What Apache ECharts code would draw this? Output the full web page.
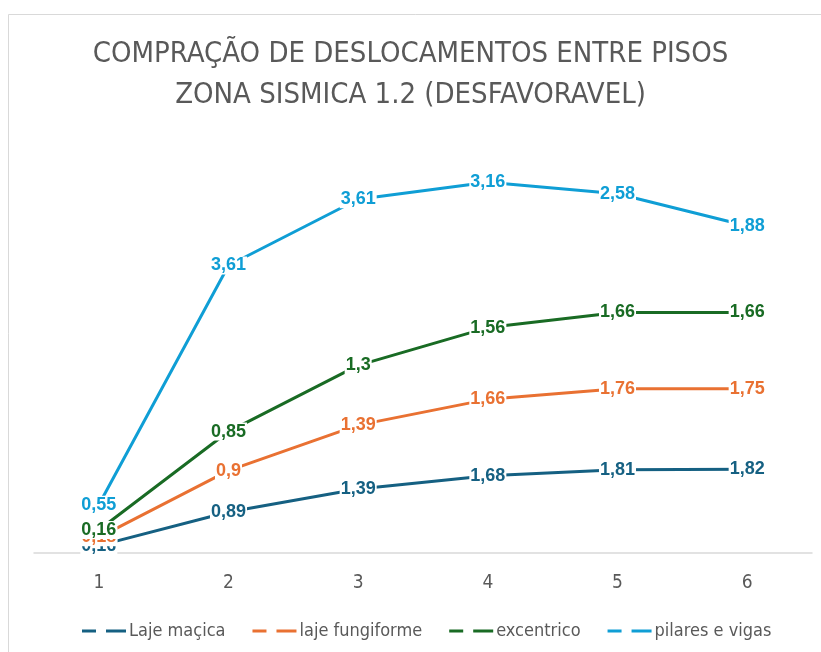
<!DOCTYPE html>
<html>
<head>
<meta charset="utf-8">
<script src="https://cdn.jsdelivr.net/npm/echarts@6/dist/echarts.min.js"></script>
<style>
  html, body { margin: 0; padding: 0; background: #ffffff; }
  #chart { width: 821px; height: 652px; }
</style>
</head>
<body>
<div id="chart"></div>
<script>
// Floors (categories on the x axis)
const pisos = ['1', '2', '3', '4', '5', '6'];

// Inter-storey displacement per structural system (stacked lines)
const lajeMacica = [0.16, 0.89, 1.39, 1.68, 1.81, 1.82];
const lajeFungiforme = [0.18, 0.9, 1.39, 1.66, 1.76, 1.75];
const excentrico = [0.16, 0.85, 1.3, 1.56, 1.66, 1.66];
const pilaresVigas = [0.55, 3.61, 3.61, 3.16, 2.58, 1.88];

const seriesNames = ['Laje maçica', 'laje fungiforme', 'excentrico', 'pilares e vigas'];
const seriesData = [lajeMacica, lajeFungiforme, excentrico, pilaresVigas];
const colors = ['#156082', '#E97132', '#196B24', '#0F9ED5'];

const textFont = '"Liberation Sans Narrow", "DejaVu Sans Condensed", "Liberation Sans", sans-serif';

const chart = echarts.init(document.getElementById('chart'));

chart.setOption({
  animation: false,
  backgroundColor: '#ffffff',
  color: colors,
  title: {
    text: 'COMPRAÇÃO DE DESLOCAMENTOS ENTRE PISOS\nZONA SISMICA 1.2 (DESFAVORAVEL)',
    left: 'center',
    top: 29,
    textStyle: {
      fontFamily: textFont,
      fontSize: 29,
      fontWeight: 'normal',
      color: '#595959',
      lineHeight: 41
    }
  },
  graphic: [{
    type: 'rect',
    shape: { x: 8.5, y: 14.5, width: 840, height: 700 },
    style: { fill: 'none', stroke: '#d9d9d9', lineWidth: 1 },
    silent: true
  }],
  legend: {
    bottom: 7,
    left: 77,
    itemWidth: 44,
    itemHeight: 3,
    itemGap: 27,
    icon: 'path://M0,0 L14,0 L14,3 L0,3 Z M24,0 L44,0 L44,3 L24,3 Z',
    textStyle: {
      fontFamily: textFont,
      fontSize: 18,
      color: '#595959',
      padding: [0, 0, 0, -2]
    },
    data: seriesNames
  },
  grid: {
    left: 34,
    right: 9,
    top: 139,
    bottom: 99,
    containLabel: false
  },
  xAxis: {
    type: 'category',
    data: pisos,
    boundaryGap: true,
    axisLine: { lineStyle: { color: '#d9d9d9', width: 1.5 } },
    axisTick: { show: false },
    axisLabel: {
      margin: 21,
      fontFamily: textFont,
      fontSize: 19,
      color: '#595959'
    }
  },
  yAxis: {
    type: 'value',
    min: 0,
    max: 9,
    interval: 1,
    show: false,
    splitLine: { show: false }
  },
  series: seriesNames.map((name, i) => ({
    name: name,
    type: 'line',
    stack: 'total',
    data: seriesData[i],
    symbol: 'circle',
    symbolSize: 1,
    showSymbol: true,
    z: 2 + i,
    lineStyle: { color: colors[i], width: 3 },
    itemStyle: { color: colors[i] },
    label: {
      show: true,
      position: 'inside',
      formatter: p => String(p.value).replace('.', ','),
      fontFamily: '"Liberation Sans", Arial, sans-serif',
      fontWeight: 'bold',
      fontSize: 18,
      color: colors[i],
      backgroundColor: '#ffffff',
      padding: [0, 1]
    }
  }))
});
</script>
</body>
</html>
